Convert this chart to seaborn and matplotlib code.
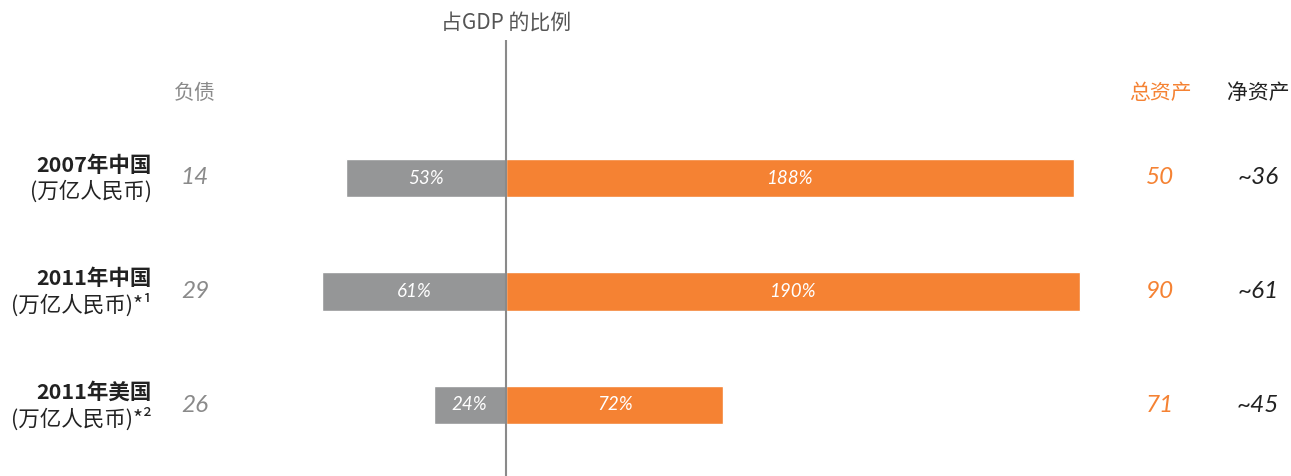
import matplotlib
matplotlib.use("Agg")
import matplotlib.pyplot as plt
import seaborn as sns
import pandas as pd

# ===============================
# data
# ===============================
labels_top = ["2007年中国", "2011年中国", "2011年美国"]
labels_bottom = ["(万亿人民币)", "(万亿人民币)*¹", "(万亿人民币)*²"]
debt_pct = [53, 61, 24]
asset_pct = [188, 190, 72]
debt_val = ["14", "29", "26"]
asset_val = ["50", "90", "71"]
net_val = ["~36", "~61", "~45"]

GRAY = "#959697"
ORANGE = "#F58233"
CJK = ["Noto Sans CJK SC", "DejaVu Sans"]
NUM = ["Lato", "Noto Sans CJK SC", "DejaVu Sans"]

df = pd.DataFrame({
    "row": labels_top,
    "debt": [-v for v in debt_pct],
    "assets": asset_pct,
})

sns.set_theme(style="white")
plt.rcParams["font.family"] = CJK

W, H = 1291, 476
fig = plt.figure(figsize=(W / 100, H / 100), dpi=100)
ax = fig.add_axes([0, 0, 1, 1])

sns.barplot(data=df, x="debt", y="row", orient="h", color=GRAY,
            width=0.335, saturation=1, ax=ax)
sns.barplot(data=df, x="assets", y="row", orient="h", color=ORANGE,
            width=0.335, saturation=1, ax=ax)

# pixel -> data helpers
SCALE = 3.02      # px per percent point
X0 = 506          # px of zero line
ROW0, ROWSTEP = 178, 113.5


def px(x):
    return (x - X0) / SCALE


def py(y):
    return (y - ROW0) / ROWSTEP


ax.set_xlim(px(0), px(W))
ax.set_ylim(py(H), py(0))
ax.axis("off")

ax.vlines(0, py(40), py(H), color="#8a8a8a", lw=1.5, zorder=5)

ax.text(0, py(23), "占GDP 的比例", ha="center", va="center",
        fontsize=15, color="#555555")
ax.text(px(195), py(93), "负债", ha="center", va="center",
        fontsize=15, color="#8a8a8a")
ax.text(px(1160), py(93), "总资产", ha="center", va="center",
        fontsize=15, color=ORANGE)
ax.text(px(1258), py(93), "净资产", ha="center", va="center",
        fontsize=15, color="#222222")

for i in range(len(labels_top)):
    ax.text(px(152), i - 13 / ROWSTEP, labels_top[i], ha="right", va="center",
            fontsize=15.5, fontweight="bold", color="#222222")
    ax.text(px(152), i + 14 / ROWSTEP, labels_bottom[i], ha="right", va="center",
            fontsize=15.5, fontweight="medium", color="#222222")
    ax.text(px(195), i, debt_val[i], ha="center", va="center",
            fontsize=17.5, style="italic", color="#8a8a8a", family=NUM)
    ax.text(-debt_pct[i] / 2, i, f"{debt_pct[i]}%", ha="center", va="center",
            fontsize=13.5, style="italic", color="white", family=NUM)
    ax.text(asset_pct[i] / 2, i, f"{asset_pct[i]}%", ha="center", va="center",
            fontsize=13.5, style="italic", color="white", family=NUM)
    ax.text(px(1160), i, asset_val[i], ha="center", va="center",
            fontsize=17.5, style="italic", color=ORANGE, family=NUM)
    ax.text(px(1258), i, net_val[i], ha="center", va="center",
            fontsize=17.5, style="italic", color="#222222", family=NUM)

fig.savefig("out.png", dpi=100)
